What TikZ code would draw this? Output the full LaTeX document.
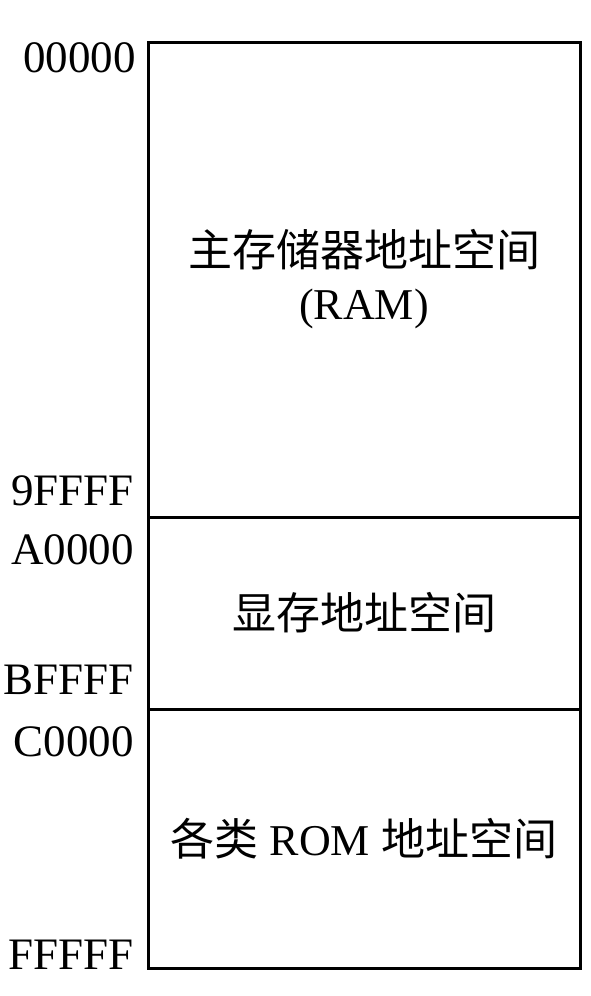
\documentclass[tikz,border=0pt]{standalone}
\usepackage{fontspec}
\setmainfont{Liberation Serif}
\newfontfamily\cjk{Noto Sans CJK SC}
\usepackage{tikz}

\begin{document}
\begin{tikzpicture}[x=1pt, y=-1pt]
    % Styles
    \tikzstyle{region} = [rectangle, draw=black, line width=3pt, minimum width=432pt, align=center, inner sep=0pt, font=\fontsize{44}{53}\selectfont]
    \tikzstyle{addr} = [anchor=east, inner sep=0pt, font=\fontsize{45}{50}\selectfont]

    \useasboundingbox (0,0) rectangle (590,996);

    % Memory regions
    \node[region, minimum height=475pt] (ram) at (364, 279.5) {{\cjk 主存储器地址空间}\\(RAM)};
    \node[region, minimum height=192pt] (vram) at (364, 613) {\cjk 显存地址空间};
    \node[region, minimum height=259pt] (rom) at (364, 838.5) {{\cjk 各类} ROM {\cjk 地址空间}};

    % Addresses
    \node[addr] (a0) at (136, 58) {00000};
    \node[addr] (a1) at (134, 491) {9FFFF};
    \node[addr] (a2) at (134, 550) {A0000};
    \node[addr] (a3) at (134, 680) {BFFFF};
    \node[addr] (a4) at (134, 742) {C0000};
    \node[addr] (a5) at (134, 955) {FFFFF};
\end{tikzpicture}
\end{document}
